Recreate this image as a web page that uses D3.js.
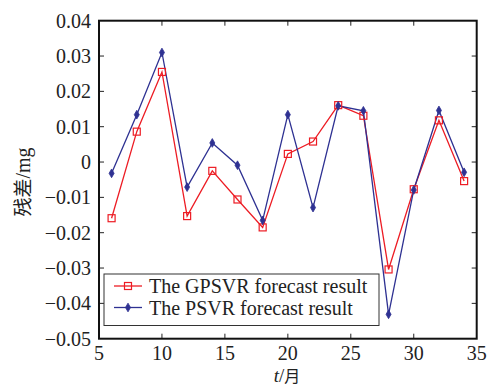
<!DOCTYPE html>
<html><head><meta charset="utf-8">
<script src="https://cdn.jsdelivr.net/npm/d3@7"></script>
<style>body{margin:0;background:#fff}svg{display:block}</style>
</head><body>
<script>
const months = [6,8,10,12,14,16,18,20,22,24,26,28,30,32,34];
const gpsvr = [-0.0159,0.0086,0.0255,-0.0153,-0.0025,-0.0106,-0.0185,0.0023,0.0058,0.0161,0.0131,-0.0304,-0.0077,0.0118,-0.0054];
const psvr  = [-0.0032,0.0134,0.031,-0.0071,0.0054,-0.0009,-0.0165,0.0134,-0.0129,0.0159,0.0145,-0.0431,-0.0079,0.0146,-0.0029];
const xTicks = [5,10,15,20,25,30,35];
const yTicks = [0.04,0.03,0.02,0.01,0,-0.01,-0.02,-0.03,-0.04,-0.05];
const yTickLabels = ["0.04","0.03","0.02","0.01","0","\u22120.01","\u22120.02","\u22120.03","\u22120.04","\u22120.05"];
const seriesNames = ["The GPSVR forecast result","The PSVR forecast result"];
const colors = ["#ed1c24","#2e3192"];

const W=487,H=387, L=99, R=476.7, T=20.7, B=338.7;
const svg = d3.select("body").append("svg").attr("width",W).attr("height",H);
const x = d3.scaleLinear().domain([5,35]).range([L,R]);
const y = d3.scaleLinear().domain([-0.05,0.04]).range([B,T]);
const font = "Liberation Serif, Times New Roman, serif";

// ticks (inward) on all sides
const g = svg.append("g").attr("stroke","#222").attr("stroke-width",1);
xTicks.slice(1,-1).forEach(t=>{
  g.append("line").attr("x1",x(t)).attr("x2",x(t)).attr("y1",B).attr("y2",B-5);
  g.append("line").attr("x1",x(t)).attr("x2",x(t)).attr("y1",T).attr("y2",T+5);
});
yTicks.slice(1,-1).forEach(t=>{
  g.append("line").attr("x1",L).attr("x2",L+5).attr("y1",y(t)).attr("y2",y(t));
  g.append("line").attr("x1",R).attr("x2",R-5).attr("y1",y(t)).attr("y2",y(t));
});
svg.append("rect").attr("x",L).attr("y",T).attr("width",R-L).attr("height",B-T)
  .attr("fill","none").attr("stroke","#111").attr("stroke-width",2);

// tick labels
svg.append("g").selectAll("text").data(xTicks).join("text")
  .attr("x",d=>x(d)).attr("y",359.5).attr("text-anchor","middle")
  .style("font-family",font).attr("font-size",20).attr("fill","#222").text(d=>d);
svg.append("g").selectAll("text").data(yTicks).join("text")
  .attr("x",91).attr("y",d=>y(d)).attr("dy","0.35em").attr("text-anchor","end")
  .style("font-family",font).attr("font-size",20).attr("fill","#222").text((d,i)=>yTickLabels[i]);

// axis titles
const xt = svg.append("text").attr("x",287).attr("y",382.3).attr("text-anchor","middle")
  .style("font-family",font).attr("font-size",19).attr("fill","#222");
xt.append("tspan").attr("font-style","italic").text("t");
xt.append("tspan").text("/");
xt.append("tspan").style("font-family","Noto Sans CJK SC").attr("font-size",16).text("月");
const yt = svg.append("text").attr("transform","translate(30,182) rotate(-90)").attr("text-anchor","middle")
  .style("font-family",font).attr("font-size",20).attr("fill","#222");
yt.append("tspan").style("font-family","Noto Sans CJK SC").attr("font-size",19).text("残差");
yt.append("tspan").text("/mg");

// lines
const plot = svg.append("g");
const line = d3.line().x(d=>x(d[0])).y(d=>y(d[1]));
const sets = [gpsvr, psvr];
sets.forEach((vals,si)=>{
  const pts = months.map((m,i)=>[m,vals[i]]);
  plot.append("path").datum(pts).attr("d",line).attr("fill","none")
    .attr("stroke",colors[si]).attr("stroke-width",1.3);
});
const diamond = d3.symbol().type(d3.symbolDiamond).size(22);
function drawMarker(sel, si, cx, cy){
  if(si===0){
    sel.append("rect").attr("x",cx-3.5).attr("y",cy-3.5).attr("width",7).attr("height",7)
      .attr("fill","none").attr("stroke",colors[0]).attr("stroke-width",1.2);
  } else {
    sel.append("path").attr("d",diamond).attr("transform",`translate(${cx},${cy})`)
      .attr("fill",colors[1]).attr("stroke",colors[1]).attr("stroke-width",0.8);
  }
}
sets.forEach((vals,si)=>{
  months.forEach((m,i)=>drawMarker(plot, si, x(m), y(vals[i])));
});

// legend
svg.append("rect").attr("x",104).attr("y",274).attr("width",275).attr("height",51.5)
  .attr("fill","#fff").attr("stroke","#333").attr("stroke-width",1);
[286,307.5].forEach((ly,si)=>{
  svg.append("line").attr("x1",114).attr("x2",142).attr("y1",ly).attr("y2",ly)
    .attr("stroke",colors[si]).attr("stroke-width",1.3);
  drawMarker(svg, si, 128, ly);
  svg.append("text").attr("x",149).attr("y",ly).attr("dy","0.35em")
    .style("font-family",font).attr("font-size",20).attr("fill","#222").text(seriesNames[si]);
});
</script>
</body></html>
